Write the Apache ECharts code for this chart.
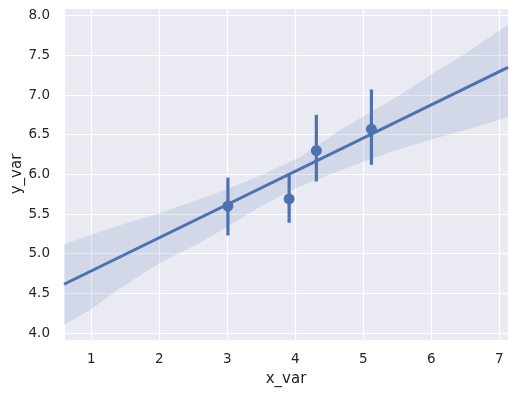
<!DOCTYPE html>
<html>
<head>
<meta charset="utf-8">
<script src="https://cdn.jsdelivr.net/npm/echarts@6/dist/echarts.min.js"></script>
<style>
html,body{margin:0;padding:0;background:#fff;}
#chart{width:518px;height:396px;}
</style>
</head>
<body>
<div id="chart"></div>
<script>
// Estimated bin means with CI bars
const pointX = [3.01, 3.91, 4.31, 5.12];
const pointY = [5.60, 5.69, 6.30, 6.57];
const barLow = [5.23, 5.39, 5.91, 6.12];
const barHigh = [5.96, 5.99, 6.75, 7.07];

// Regression fit line endpoints
const fitX = [0.6, 7.128];
const fitY = [4.615, 7.349];

// Confidence band
const bandX =     [0.6,  1.0,  1.42, 2.0,  2.6,  2.9,  3.5,  4.07, 4.66, 5.0,  5.54, 6.0,  6.5,  7.128];
const bandUpper = [5.12, 5.24, 5.36, 5.51, 5.69, 5.78, 5.99, 6.22, 6.56, 6.73, 7.00, 7.26, 7.52, 7.89];
const bandLower = [4.10, 4.30, 4.56, 4.88, 5.14, 5.29, 5.60, 5.85, 6.05, 6.16, 6.32, 6.44, 6.56, 6.72];

const xTicks = [1, 2, 3, 4, 5, 6, 7];
const yTicks = [4.0, 4.5, 5.0, 5.5, 6.0, 6.5, 7.0, 7.5, 8.0];

const blue = '#4C72B0';
const textColor = '#262626';
const font = 'DejaVu Sans';

const chart = echarts.init(document.getElementById('chart'), null, {renderer: 'canvas'});

const bandPoly = bandX.map((x, i) => [x, bandUpper[i]])
  .concat(bandX.map((x, i) => [x, bandLower[i]]).reverse());

chart.setOption({
  animation: false,
  backgroundColor: '#ffffff',
  grid: {left: 64, right: 10, top: 8, bottom: 56, show: true, backgroundColor: '#EAEAF2', borderWidth: 0,
    containLabel: false, outerBoundsMode: 'none'},
  xAxis: {
    type: 'value',
    min: 0.6, max: 7.128,
    minInterval: 1, maxInterval: 1,
    name: 'x_var', nameLocation: 'middle', nameGap: 32, nameMoveOverlap: false,
    nameTextStyle: {color: textColor, fontFamily: font, fontSize: 15},
    axisLine: {show: false}, axisTick: {show: false},
    axisLabel: {color: textColor, fontFamily: font, fontSize: 13.5, margin: 12,
      showMinLabel: false, showMaxLabel: false,
      formatter: v => xTicks.includes(Math.round(v * 1000) / 1000) ? String(v) : ''},
    splitLine: {show: true, lineStyle: {color: '#ffffff', width: 1.2}}
  },
  yAxis: {
    type: 'value',
    min: 3.912, max: 8.097,
    minInterval: 0.5, maxInterval: 0.5,
    name: 'y_var', nameLocation: 'middle', nameGap: 39, nameRotate: 90, nameMoveOverlap: false,
    nameTextStyle: {color: textColor, fontFamily: font, fontSize: 15},
    axisLine: {show: false}, axisTick: {show: false},
    axisLabel: {color: textColor, fontFamily: font, fontSize: 13.5, margin: 14,
      showMinLabel: false, showMaxLabel: false,
      formatter: v => yTicks.includes(Math.round(v * 1000) / 1000) ? v.toFixed(1) : ''},
    splitLine: {show: true, lineStyle: {color: '#ffffff', width: 1.2}}
  },
  series: [
    {
      type: 'custom',
      clip: true,
      z: 1,
      data: [0],
      renderItem: (params, api) => ({
        type: 'polygon',
        shape: {points: bandPoly.map(p => api.coord(p))},
        style: {fill: blue, opacity: 0.15}
      })
    },
    {
      type: 'custom',
      clip: true,
      z: 3,
      data: pointX.map((x, i) => [x, barLow[i], barHigh[i]]),
      renderItem: (params, api) => {
        const a = api.coord([api.value(0), api.value(1)]);
        const b = api.coord([api.value(0), api.value(2)]);
        return {type: 'line', shape: {x1: a[0], y1: a[1], x2: b[0], y2: b[1]},
          style: {stroke: blue, lineWidth: 3.2}};
      }
    },
    {
      type: 'scatter',
      z: 4,
      symbol: 'circle', symbolSize: 11,
      itemStyle: {color: blue, opacity: 1},
      data: pointX.map((x, i) => [x, pointY[i]])
    },
    {
      type: 'line',
      z: 5,
      symbol: 'none',
      lineStyle: {color: blue, width: 3},
      data: fitX.map((x, i) => [x, fitY[i]])
    }
  ]
});
</script>
</body>
</html>
